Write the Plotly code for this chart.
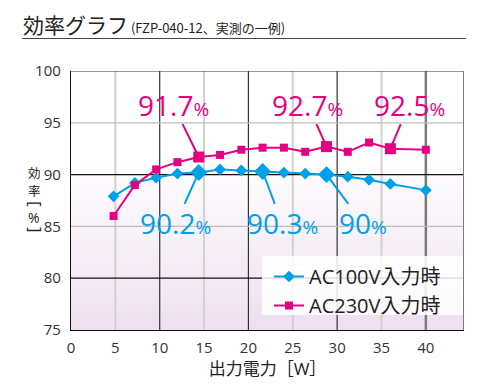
import plotly.graph_objects as go

# ---- data ----
output_w = [4.8, 7.2, 9.6, 12.0, 14.4, 16.8, 19.2, 21.6, 24.0, 26.4, 28.8, 31.2, 33.6, 36.0, 40.0]
eff_ac100 = [87.9, 89.2, 89.7, 90.1, 90.2, 90.5, 90.4, 90.3, 90.2, 90.1, 90.0, 89.8, 89.5, 89.1, 88.5]
eff_ac230 = [86.0, 89.0, 90.5, 91.2, 91.7, 91.9, 92.4, 92.6, 92.6, 92.2, 92.7, 92.2, 93.1, 92.5, 92.4]
label_x_ac100 = [14.4, 21.6, 28.8]
label_txt_ac100 = ["90.2", "90.3", "90"]
label_x_ac230 = [14.4, 28.8, 36.0]
label_txt_ac230 = ["91.7", "92.7", "92.5"]
x_ticks = [0, 5, 10, 15, 20, 25, 30, 35, 40]
y_ticks = [75, 80, 85, 90, 95, 100]
series_names = ["AC100V入力時", "AC230V入力時"]

BLUE = "#00a0e9"
RED = "#e4007f"
NUM_FONT = "Open Sans, Noto Sans, sans-serif"
JP_FONT = "Noto Sans CJK JP, sans-serif"
MIX_FONT = "Open Sans, Noto Sans CJK JP, sans-serif"

# page offset (body margin) and figure size
OFF = 8
W, H = 477 - 2 * OFF, 392 - 2 * OFF
# plot area in window pixels
PL, PR, PT, PB = 71, 464, 71, 330
ML, MT = PL - OFF, PT - OFF
MR, MB = W - (PR - OFF), H - (PB - OFF)
PW, PH = PR - PL, PB - PT
XMAX = 44.3


def px(xp):
    return (xp - PL) / PW


def py(yp):
    return 1 - (yp - PT) / PH


fig = go.Figure()

fig.add_trace(go.Scatter(x=output_w, y=eff_ac100, mode="lines+markers", name=series_names[0],
                         line=dict(color=BLUE, width=2),
                         marker=dict(symbol="diamond", size=9, color=BLUE)))
fig.add_trace(go.Scatter(x=output_w, y=eff_ac230, mode="lines+markers", name=series_names[1],
                         line=dict(color=RED, width=2),
                         marker=dict(symbol="square", size=8, color=RED)))

# highlighted points
hx1 = [x for x in output_w if x in label_x_ac100]
hy1 = [eff_ac100[output_w.index(x)] for x in hx1]
hx2 = [x for x in output_w if x in label_x_ac230]
hy2 = [eff_ac230[output_w.index(x)] for x in hx2]
fig.add_trace(go.Scatter(x=hx1, y=hy1, mode="markers", showlegend=False,
                         marker=dict(symbol="diamond", size=13, color=BLUE)))
fig.add_trace(go.Scatter(x=hx2, y=hy2, mode="markers", showlegend=False,
                         marker=dict(symbol="square", size=11, color=RED)))

shapes = []
# background gradient strips
n = 34
y0g, y1g = 75, 92
c_top = (255, 255, 255)
c_bot = (238, 224, 239)
for i in range(n):
    a = y0g + (y1g - y0g) * i / n
    b = y0g + (y1g - y0g) * (i + 1) / n
    t = i / (n - 1)
    c = tuple(int(round(c_bot[k] + (c_top[k] - c_bot[k]) * t)) for k in range(3))
    shapes.append(dict(type="rect", xref="x", yref="y", x0=0, x1=XMAX, y0=a, y1=b + 0.05,
                       fillcolor="rgb(%d,%d,%d)" % c, line=dict(width=0), layer="below"))

# vertical grid lines
for xv in x_ticks[1:]:
    if xv == x_ticks[-1]:
        col, wd = "#7a7a7a", 2.5
    elif xv % 10 == 0:
        col, wd = "#333333", 1.2
    else:
        col, wd = "#d0d0d0", 2
    shapes.append(dict(type="line", xref="x", yref="y", x0=xv, x1=xv, y0=y_ticks[0], y1=y_ticks[-1],
                       line=dict(color=col, width=wd), layer="below"))
# horizontal grid lines
for yv in y_ticks[1:-1]:
    if yv % 10 == 0:
        col, wd = "#111111", 1.3
    else:
        col, wd = "#bdbdbd", 1.2
    shapes.append(dict(type="line", xref="x", yref="y", x0=0, x1=XMAX, y0=yv, y1=yv,
                       line=dict(color=col, width=wd), layer="below"))
# top border and right border
shapes.append(dict(type="line", xref="x", yref="y", x0=0, x1=XMAX, y0=y_ticks[-1], y1=y_ticks[-1],
                   line=dict(color="#333333", width=1.2)))
shapes.append(dict(type="line", xref="x", yref="y", x0=XMAX, x1=XMAX, y0=y_ticks[0], y1=y_ticks[-1],
                   line=dict(color="#7a7a7a", width=2)))
# title underline
shapes.append(dict(type="line", xref="paper", yref="paper", x0=px(22), x1=px(466), y0=py(38.5), y1=py(38.5),
                   line=dict(color="#444444", width=1.2)))
# legend background panel (wider than the auto legend box)
shapes.append(dict(type="rect", xref="paper", yref="paper", x0=px(262), x1=px(463), y0=py(315), y1=py(256),
                   fillcolor="rgba(255,255,255,0.85)", line=dict(width=0), layer="above"))

annotations = []
# title
annotations.append(dict(xref="paper", yref="paper", x=px(21), y=py(24), xanchor="left", yanchor="middle",
                        showarrow=False,
                        text="効率グラフ<span style='font-size:13px'> (FZP-040-12、実測の一例)</span>",
                        font=dict(family=JP_FONT, size=21, color="#222222")))

# value labels
pct = "<span style='font-size:19px'>%</span>"
red_pos = [(11.5, 96.75), (26.7, 96.75), (38.1, 96.75)]
blue_pos = [(11.8, 85.3), (23.8, 85.3), (32.9, 85.3)]
for (lx, lt), (ax, ay) in zip(zip(label_x_ac230, label_txt_ac230), red_pos):
    annotations.append(dict(x=lx, y=eff_ac230[output_w.index(lx)], xref="x", yref="y",
                            ax=ax, ay=ay, axref="x", ayref="y", text=lt + pct, showarrow=True,
                            arrowhead=0, arrowwidth=2, arrowcolor=RED, standoff=0,
                            font=dict(family=NUM_FONT, size=28, color=RED), borderpad=0))
for (lx, lt), (ax, ay) in zip(zip(label_x_ac100, label_txt_ac100), blue_pos):
    annotations.append(dict(x=lx, y=eff_ac100[output_w.index(lx)], xref="x", yref="y",
                            ax=ax, ay=ay, axref="x", ayref="y", text=lt + pct, showarrow=True,
                            arrowhead=0, arrowwidth=2, arrowcolor=BLUE, standoff=0,
                            font=dict(family=NUM_FONT, size=28, color=BLUE), borderpad=0))

# y axis title (vertical, upright characters with rotated brackets)
for ch, xp, yp, ang, sz, fam in [("効", 34, 172, 0, 12.5, JP_FONT),
                                 ("率", 34, 190.5, 0, 12.5, JP_FONT),
                                 ("[", 36, 204, 90, 17, NUM_FONT),
                                 ("%", 34, 217, 0, 14, NUM_FONT),
                                 ("]", 36, 230, 90, 17, NUM_FONT)]:
    annotations.append(dict(xref="paper", yref="paper", x=px(xp), y=py(yp), showarrow=False,
                            text=ch, textangle=ang, xanchor="center", yanchor="middle",
                            font=dict(family=fam, size=sz, color="#222222")))

fig.update_layout(
    width=W, height=H,
    margin=dict(l=ML, r=MR, t=MT, b=MB, autoexpand=False),
    paper_bgcolor="white", plot_bgcolor="white",
    showlegend=True,
    legend=dict(x=px(269), y=py(257), xanchor="left", yanchor="top",
                bgcolor="rgba(0,0,0,0)", borderwidth=0,
                font=dict(family=MIX_FONT, size=20, color="#222222"),
                tracegroupgap=0, itemwidth=30),
    shapes=shapes, annotations=annotations,
    xaxis=dict(range=[0, XMAX], tickvals=x_ticks, showgrid=False, zeroline=False,
               showline=True, linecolor="#111111", linewidth=1.3, ticks="",
               ticklabelstandoff=4,
               tickfont=dict(family=NUM_FONT, size=15, color="#333333"),
               title=dict(text="出力電力［W］", font=dict(family=MIX_FONT, size=17, color="#222222"), standoff=4)),
    yaxis=dict(range=[75, 100], tickvals=y_ticks, showgrid=False, zeroline=False,
               showline=True, linecolor="#111111", linewidth=1.3, ticks="",
               ticklabelstandoff=6,
               tickfont=dict(family=NUM_FONT, size=15, color="#333333")),
)

fig.write_html("out.html")
